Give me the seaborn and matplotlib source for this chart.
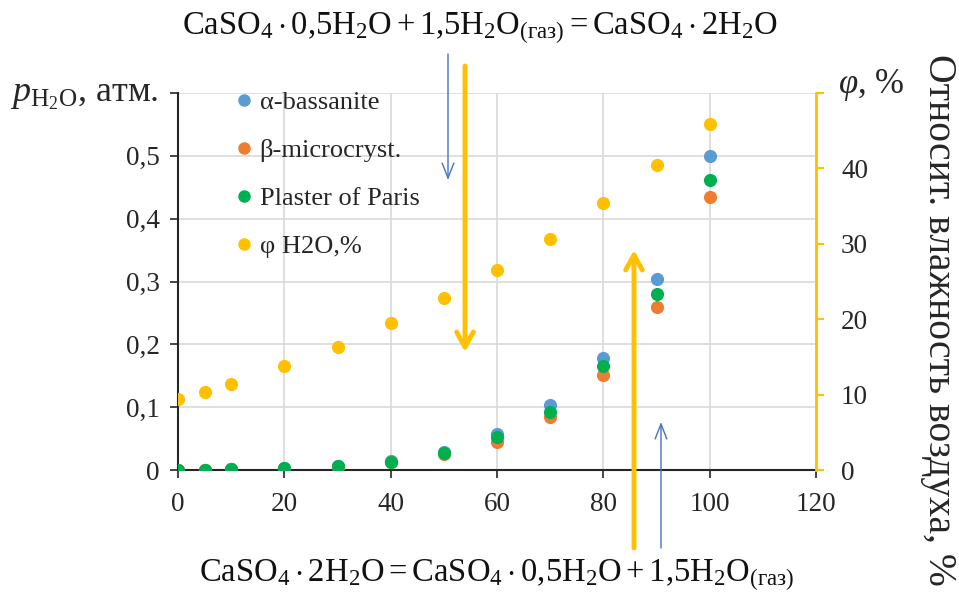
import matplotlib
matplotlib.use("Agg")
import matplotlib.pyplot as plt
import seaborn as sns
import pandas as pd
from matplotlib.lines import Line2D

# ---- data ----
temp_x = [0, 5, 10, 20, 30, 40, 50, 60, 70, 80, 90, 100]
alpha_bassanite = [0, 0.0005, 0.001, 0.003, 0.007, 0.014, 0.029, 0.057, 0.104, 0.179, 0.304, 0.500]
beta_microcryst = [0, 0.0004, 0.001, 0.002, 0.005, 0.012, 0.025, 0.045, 0.084, 0.151, 0.260, 0.435]
plaster_of_paris = [0, 0.0004, 0.001, 0.003, 0.006, 0.013, 0.027, 0.052, 0.093, 0.165, 0.280, 0.461]
phi_h2o = [9.4, 10.4, 11.4, 13.8, 16.3, 19.5, 22.8, 26.5, 30.7, 35.4, 40.5, 45.9]

series_names = ["α-bassanite", "β-microcryst.", "Plaster of Paris", "φ H2O,%"]
colors = ["#5B9BD5", "#ED7D31", "#00B050", "#FFC000"]
left_ticks = [0, 0.1, 0.2, 0.3, 0.4, 0.5, 0.6]
left_labels = ["0", "0,1", "0,2", "0,3", "0,4", "0,5", ""]
right_ticks = [0, 10, 20, 30, 40, 50]
right_labels = ["0", "10", "20", "30", "40", ""]
x_ticks = [0, 20, 40, 60, 80, 100, 120]

sns.set_theme(style="white")
plt.rcParams["font.family"] = ["Liberation Serif", "DejaVu Serif"]
plt.rcParams["mathtext.fontset"] = "custom"
plt.rcParams["mathtext.rm"] = "Liberation Serif"
plt.rcParams["mathtext.it"] = "Liberation Serif:italic"
plt.rcParams["mathtext.bf"] = "Liberation Serif:bold"

df = pd.DataFrame({"T": temp_x, series_names[0]: alpha_bassanite,
                   series_names[1]: beta_microcryst, series_names[2]: plaster_of_paris,
                   series_names[3]: phi_h2o})

fig = plt.figure(figsize=(9.59, 5.94), dpi=100)
ax = fig.add_axes([178/959, 1-470/594, (816-178)/959, (470-93)/594])
ax2 = ax.twinx()

ms = 90
for name, col in zip(series_names[:3], colors[:3]):
    sns.scatterplot(data=df, x="T", y=name, ax=ax, color=col, s=ms, linewidth=0, zorder=3)
sns.scatterplot(data=df, x="T", y=series_names[3], ax=ax2, color=colors[3], s=ms, linewidth=0, zorder=3)

ax.set_xlim(0, 120)
ax.set_ylim(0, 0.6)
ax2.set_ylim(0, 50)
ax.set_xticks(x_ticks)
ax.set_xticklabels([str(v) for v in x_ticks])
ax.set_yticks(left_ticks)
ax.set_yticklabels(left_labels)
ax2.set_yticks(right_ticks)
ax2.set_yticklabels(right_labels)
ax.set_xlabel("")
ax.set_ylabel("")
ax2.set_ylabel("")

ax.grid(True, color="#D9D9D9", linewidth=1.2)
ax.set_axisbelow(True)
for sp in ["top", "right"]:
    ax.spines[sp].set_visible(False)
for sp in ["top", "left", "bottom"]:
    ax2.spines[sp].set_visible(False)
ax.spines["left"].set_color("#262626")
ax.spines["bottom"].set_color("#262626")
ax.spines["left"].set_linewidth(1.5)
ax.spines["bottom"].set_linewidth(1.5)
ax2.spines["right"].set_color("#FFC000")
ax2.spines["right"].set_linewidth(2)

ax.tick_params(axis="both", which="major", labelsize=19.5, colors="#262626", length=6, width=1.2,
               direction="out", left=True, bottom=True, pad=7)
ax.tick_params(axis="x", pad=10)
ax2.tick_params(axis="y", labelsize=19.5, color="#FFC000", labelcolor="#262626", length=6, width=1.5,
                direction="out", right=True, pad=12)

# legend
handles = [Line2D([0], [0], marker="o", linestyle="", markersize=9, markerfacecolor=c,
                  markeredgewidth=0) for c in colors]
ax.legend(handles, series_names, loc="upper left", bbox_to_anchor=(0.072, 1.035), frameon=False,
          fontsize=19, labelspacing=0.93, handletextpad=0.25, handlelength=0.7, borderaxespad=0)

# axis titles
fig.text(10/959, 1-96/594, r"$p_{\mathrm{H_2O}}$, атм.", fontsize=26, ha="left", va="center", color="#262626")
fig.text(838/959, 1-85/594, r"$\varphi$, %", fontsize=25, ha="left", va="center", color="#262626")
fig.text(938/959, 1-320/594, "Относит. влажность воздуха, %", fontsize=28.5, rotation=-90,
         ha="center", va="center", color="#262626")

# equations
fig.text(480/959, 1-28/594,
         r"$\mathrm{CaSO_4 \cdot 0{,}5H_2O + 1{,}5H_2O_{(газ)} = CaSO_4 \cdot 2H_2O}$",
         fontsize=23.5, ha="center", va="center", color="#111111")
fig.text(497/959, 1-575/594,
         r"$\mathrm{CaSO_4 \cdot 2H_2O = CaSO_4 \cdot 0{,}5H_2O + 1{,}5H_2O_{(газ)}}$",
         fontsize=23.5, ha="center", va="center", color="#111111")

# arrows (annotations in figure pixel fractions)
def farrow(x, y0, y1, color, lw, hl, hw):
    ax.annotate("", xy=(x/959, 1-y1/594), xytext=(x/959, 1-y0/594),
                xycoords="figure fraction", textcoords="figure fraction",
                arrowprops=dict(arrowstyle=f"->,head_length={hl},head_width={hw}",
                                color=color, lw=lw, shrinkA=0, shrinkB=0),
                annotation_clip=False)

farrow(465, 66, 352, "#FFC000", 3.5, 0.9, 0.5)
farrow(634, 548, 250, "#FFC000", 3.5, 0.9, 0.5)
farrow(448, 54, 180, "#4472C4", 1, 0.9, 0.35)
farrow(661, 548, 422, "#4472C4", 1, 0.9, 0.35)

fig.savefig("out.png", dpi=100)
